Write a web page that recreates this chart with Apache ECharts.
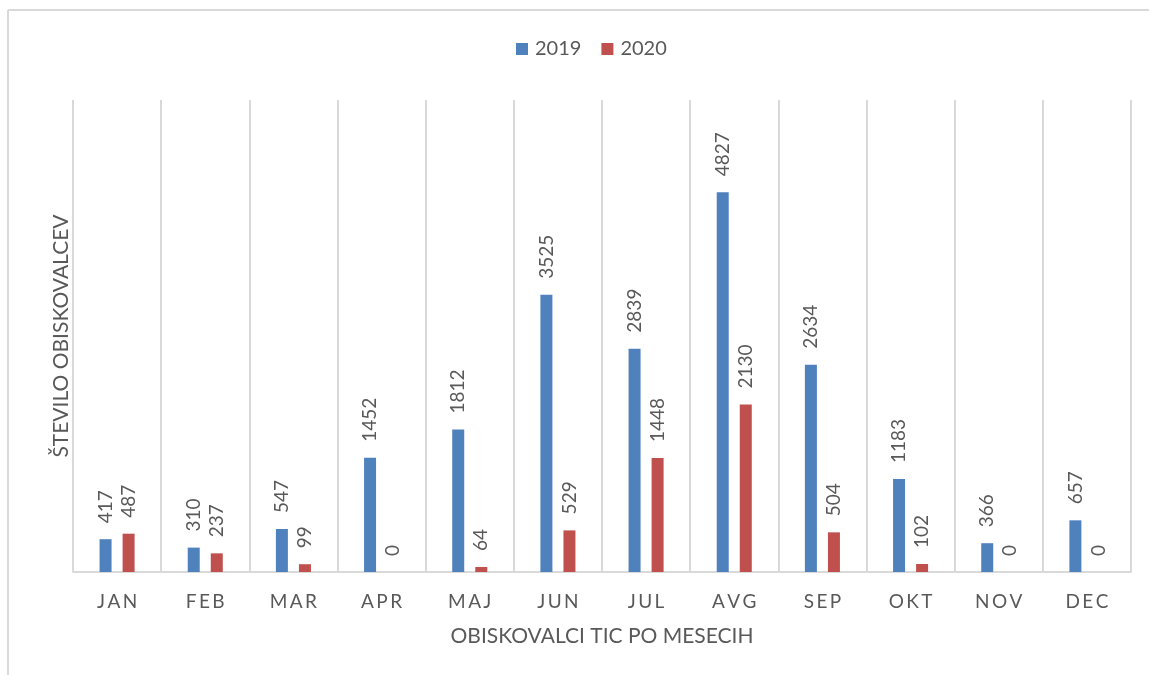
<!DOCTYPE html>
<html>
<head>
<meta charset="utf-8">
<script src="https://cdn.jsdelivr.net/npm/echarts@6/dist/echarts.min.js"></script>
<style>
  html, body { margin: 0; padding: 0; background: #fff; }
  #chart { width: 1149px; height: 675px; }
</style>
</head>
<body>
<div id="chart"></div>
<script>
// meseci in obiskovalci
var months = ['JAN', 'FEB', 'MAR', 'APR', 'MAJ', 'JUN', 'JUL', 'AVG', 'SEP', 'OKT', 'NOV', 'DEC'];
var visits2019 = [417, 310, 547, 1452, 1812, 3525, 2839, 4827, 2634, 1183, 366, 657];
var visits2020 = [487, 237, 99, 0, 64, 529, 1448, 2130, 504, 102, 0, 0];

var textColor = '#595959';
var lineColor = '#d9d9d9';
var font = 'Lato, "Open Sans", sans-serif';

var myChart = echarts.init(document.getElementById('chart'));

var barLabel = {
    show: true,
    position: 'top',
    rotate: 90,
    align: 'left',
    verticalAlign: 'middle',
    distance: 16,
    color: textColor,
    fontSize: 19,
    fontFamily: font
};

var option = {
    animation: false,
    backgroundColor: '#fff',
    textStyle: { fontFamily: font },
    legend: {
        top: 34,
        left: 511,
        itemWidth: 12,
        itemHeight: 12,
        itemGap: 20,
        icon: 'rect',
        textStyle: { color: textColor, fontSize: 20, fontFamily: font, padding: [0, 0, 0, 2] },
        data: ['2019', '2020']
    },
    grid: { left: 73, right: 18, top: 100, bottom: 103 },
    xAxis: {
        type: 'category',
        data: months,
        name: 'OBISKOVALCI TIC PO MESECIH',
        nameLocation: 'middle',
        nameGap: 54,
        nameTextStyle: { color: textColor, fontSize: 21, fontFamily: font },
        axisLine: { lineStyle: { color: lineColor, width: 2 } },
        axisTick: { show: false },
        axisLabel: {
            margin: 20,
            color: textColor,
            fontSize: 19,
            fontFamily: font,
            formatter: function (val) {
                return val.split('').join('\u2009');   // razmik med črkami
            }
        },
        splitLine: { show: true, interval: 0, lineStyle: { color: lineColor, width: 2 } }
    },
    yAxis: {
        type: 'value',
        min: 0,
        max: 6000,
        name: 'ŠTEVILO OBISKOVALCEV',
        nameLocation: 'middle',
        nameGap: 1,
        nameTextStyle: { color: textColor, fontSize: 21, fontFamily: font },
        axisLine: { show: false },
        axisTick: { show: false },
        axisLabel: { show: false },
        splitLine: { show: false }
    },
    series: [
        {
            name: '2019',
            type: 'bar',
            data: visits2019,
            barWidth: 12,
            barGap: '92%',
            itemStyle: { color: '#4f81bd' },
            label: barLabel
        },
        {
            name: '2020',
            type: 'bar',
            data: visits2020,
            barWidth: 12,
            itemStyle: { color: '#c0504d' },
            label: barLabel
        }
    ],
    graphic: [
        { type: 'line', shape: { x1: 8, y1: 10, x2: 1149, y2: 10 }, style: { stroke: lineColor, lineWidth: 2 } },
        { type: 'line', shape: { x1: 8, y1: 10, x2: 8, y2: 675 }, style: { stroke: lineColor, lineWidth: 2 } }
    ]
};

myChart.setOption(option);
</script>
</body>
</html>
